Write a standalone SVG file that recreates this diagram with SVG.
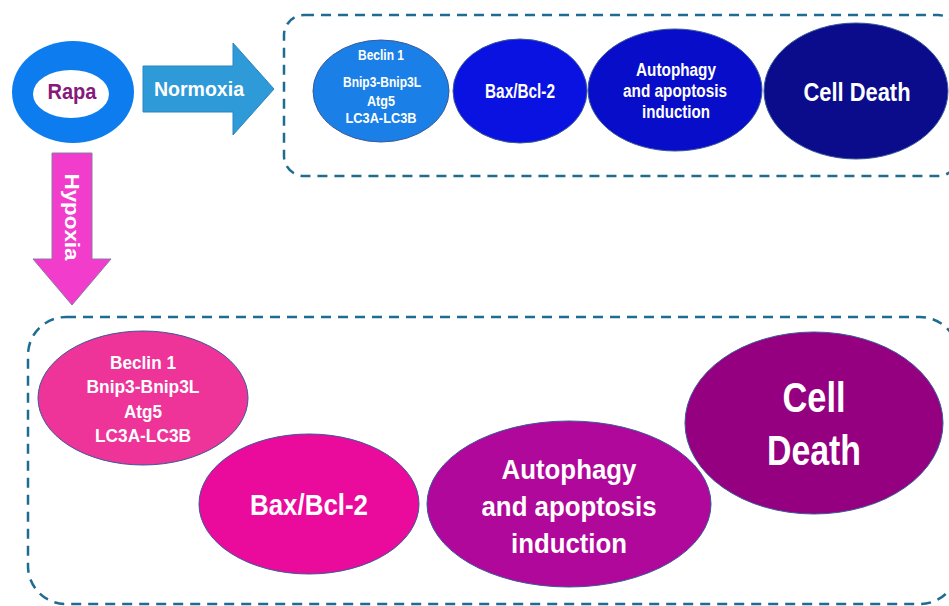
<svg xmlns="http://www.w3.org/2000/svg" width="949" height="606" viewBox="0 0 949 606">
<style>
text{font-family:"Liberation Sans",Arial,sans-serif;font-weight:bold;fill:#fff;text-anchor:middle}
.box{fill:none;stroke:#1f6b91;stroke-width:2.5;stroke-dasharray:10 7}
.node{stroke:#3a5a9a;stroke-width:1}
</style>
<rect width="949" height="606" fill="#fff"/>
<g id="boxes">
<rect class="box" x="284" y="15" width="674" height="161" rx="20"/>
<rect class="box" x="28" y="317" width="930" height="287" rx="38"/>
</g>
<g id="rapa">
<ellipse cx="73" cy="92" rx="61" ry="51" fill="#0c7cee"/>
<ellipse cx="71" cy="94" rx="38" ry="24" fill="#fff"/>
<text x="72" y="99" font-size="22" textLength="49" lengthAdjust="spacingAndGlyphs" style="fill:#861a7c">Rapa</text>
</g>
<g id="connectors">
<g id="normoxia">
<polygon points="143,66 233,66 233,43 274,89 233,135 233,112 143,112" fill="#2e9ad8" stroke="#2a85c0" stroke-width="1"/>
<text x="199" y="96" font-size="20" textLength="90" lengthAdjust="spacingAndGlyphs">Normoxia</text>
</g>
<g id="hypoxia">
<polygon points="52,153 92,153 92,259 111,259 72,305 33,259 52,259" fill="#f23ccb" stroke="#8a7aa8" stroke-width="1"/>
<text transform="translate(72,217) rotate(90)" y="7" font-size="20" textLength="87" lengthAdjust="spacingAndGlyphs">Hypoxia</text>
</g>
</g>
<g id="n1">
<ellipse class="node" cx="381" cy="91" rx="68" ry="51" fill="#1a80e8"/>
<text x="381" y="60" font-size="14" textLength="46" lengthAdjust="spacingAndGlyphs">Beclin 1</text>
<text x="382" y="87" font-size="14" textLength="78" lengthAdjust="spacingAndGlyphs">Bnip3-Bnip3L</text>
<text x="381" y="106" font-size="14" textLength="28" lengthAdjust="spacingAndGlyphs">Atg5</text>
<text x="381" y="123" font-size="14" textLength="71" lengthAdjust="spacingAndGlyphs">LC3A-LC3B</text>
</g>
<g id="n2">
<ellipse class="node" cx="520" cy="91" rx="67" ry="52" fill="#0a12e2"/>
<text x="520" y="98" font-size="20" textLength="70" lengthAdjust="spacingAndGlyphs">Bax/Bcl-2</text>
</g>
<g id="n3">
<ellipse class="node" cx="675" cy="90" rx="87" ry="61" fill="#080dca"/>
<text x="676" y="76" font-size="18" textLength="80" lengthAdjust="spacingAndGlyphs">Autophagy</text>
<text x="675" y="97" font-size="18" textLength="104" lengthAdjust="spacingAndGlyphs">and apoptosis</text>
<text x="676" y="118" font-size="18" textLength="68" lengthAdjust="spacingAndGlyphs">induction</text>
</g>
<g id="n4">
<ellipse class="node" cx="856" cy="91" rx="92" ry="68" fill="#0a0c8c"/>
<text x="857" y="101" font-size="26" textLength="107" lengthAdjust="spacingAndGlyphs">Cell Death</text>
</g>
<g id="m1">
<ellipse class="node" cx="143" cy="398" rx="105" ry="67" fill="#ee3399"/>
<text x="143" y="369" font-size="19" textLength="66" lengthAdjust="spacingAndGlyphs">Beclin 1</text>
<text x="143" y="393" font-size="19" textLength="113" lengthAdjust="spacingAndGlyphs">Bnip3-Bnip3L</text>
<text x="143" y="418" font-size="19" textLength="38" lengthAdjust="spacingAndGlyphs">Atg5</text>
<text x="143" y="442" font-size="19" textLength="96" lengthAdjust="spacingAndGlyphs">LC3A-LC3B</text>
</g>
<g id="m2">
<ellipse class="node" cx="309" cy="504" rx="110" ry="70" fill="#ea0a9c"/>
<text x="309" y="515" font-size="30" textLength="118" lengthAdjust="spacingAndGlyphs">Bax/Bcl-2</text>
</g>
<g id="m3">
<ellipse class="node" cx="569" cy="504" rx="142" ry="83" fill="#b0089a"/>
<text x="569" y="479" font-size="27" textLength="135" lengthAdjust="spacingAndGlyphs">Autophagy</text>
<text x="569" y="516" font-size="27" textLength="175" lengthAdjust="spacingAndGlyphs">and apoptosis</text>
<text x="569" y="553" font-size="27" textLength="116" lengthAdjust="spacingAndGlyphs">induction</text>
</g>
<g id="m4">
<ellipse class="node" cx="814" cy="423" rx="129" ry="91" fill="#950080"/>
<text x="814" y="412" font-size="42" textLength="63" lengthAdjust="spacingAndGlyphs">Cell</text>
<text x="814" y="465" font-size="42" textLength="94" lengthAdjust="spacingAndGlyphs">Death</text>
</g>
</svg>
